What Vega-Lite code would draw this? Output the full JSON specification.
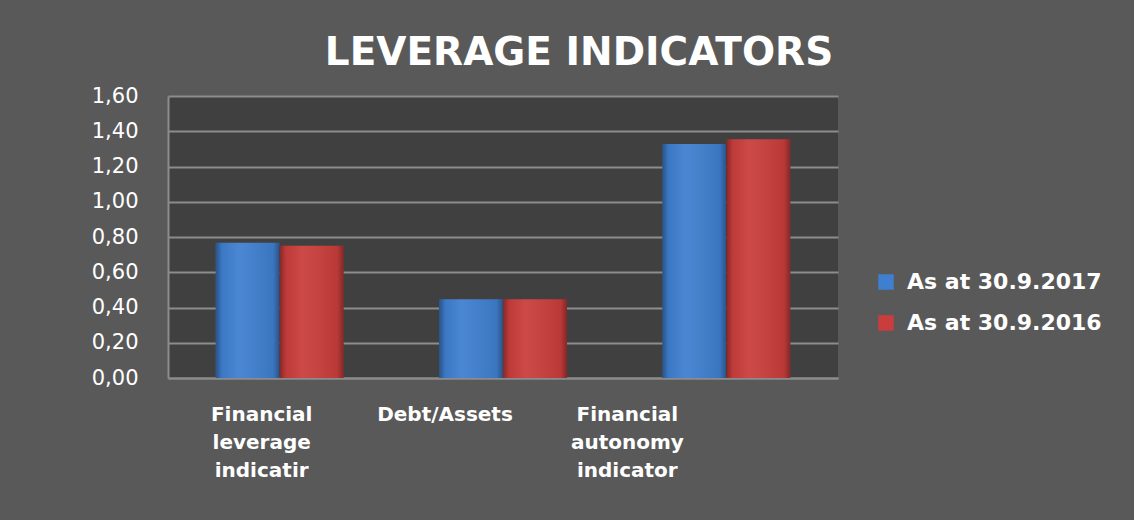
{
  "$schema": "https://vega.github.io/schema/vega-lite/v6.json",
  "autosize": "none",
  "width": 670,
  "height": 282,
  "padding": {"left": 168, "top": 96, "right": 296, "bottom": 142},
  "background": "#595959",
  "title": {
    "text": "LEVERAGE INDICATORS",
    "anchor": "middle",
    "dx": 76,
    "dy": 47,
    "offset": 28,
    "baseline": "alphabetic",
    "font": "DejaVu Sans",
    "fontSize": 39,
    "fontWeight": "bold",
    "color": "#ffffff"
  },
  "config": {
    "view": {"fill": "#404040", "stroke": null}
  },
  "data": {
    "values": [
      {"cat": "Financial leverage indicatir", "series": "As at 30.9.2017", "value": 0.768},
      {"cat": "Financial leverage indicatir", "series": "As at 30.9.2016", "value": 0.751},
      {"cat": "Debt/Assets", "series": "As at 30.9.2017", "value": 0.447},
      {"cat": "Debt/Assets", "series": "As at 30.9.2016", "value": 0.447},
      {"cat": "Financial autonomy indicator", "series": "As at 30.9.2017", "value": 1.327},
      {"cat": "Financial autonomy indicator", "series": "As at 30.9.2016", "value": 1.355}
    ]
  },
  "encoding": {
    "x": {
      "field": "cat",
      "type": "nominal",
      "sort": null,
      "scale": {"paddingInner": 0.427, "paddingOuter": 0.2135},
      "axis": {
        "title": null,
        "grid": false,
        "labelAngle": 0,
        "labelExpr": "split(datum.label, ' ')",
        "labelFont": "DejaVu Sans",
        "labelFontWeight": "bold",
        "labelFontSize": 20,
        "labelColor": "#ffffff",
        "labelLineHeight": 28,
        "labelBaseline": "top",
        "labelPadding": 26,
        "labelOffset": {
          "condition": [
            {"test": "datum.value == 'Debt/Assets'", "value": -58},
            {"test": "datum.value == 'Financial autonomy indicator'", "value": -99}
          ],
          "value": -18
        },
        "ticks": false,
        "domainColor": "#8c8c8c",
        "domainWidth": 2
      }
    },
    "xOffset": {
      "field": "series",
      "type": "nominal",
      "sort": ["As at 30.9.2017", "As at 30.9.2016"],
      "scale": {"paddingInner": 0, "paddingOuter": 0}
    },
    "y": {
      "field": "value",
      "type": "quantitative",
      "scale": {"domain": [0, 1.6]},
      "axis": {
        "title": null,
        "grid": true,
        "gridColor": "#8c8c8c",
        "gridWidth": 2,
        "values": [0, 0.2, 0.4, 0.6, 0.8, 1.0, 1.2, 1.4, 1.6],
        "labelExpr": "replace(format(datum.value, '.2f'), '.', ',')",
        "labelFont": "DejaVu Sans",
        "labelFontSize": 21,
        "labelColor": "#ffffff",
        "labelPadding": 30,
        "ticks": false,
        "domainColor": "#8c8c8c",
        "domainWidth": 2
      }
    }
  },
  "layer": [
    {
      "mark": {"type": "bar"},
      "encoding": {
        "color": {
          "field": "series",
          "type": "nominal",
          "sort": ["As at 30.9.2017", "As at 30.9.2016"],
          "scale": {"domain": ["As at 30.9.2017", "As at 30.9.2016"], "range": ["#3f7fcf", "#c93e3c"]},
          "legend": {
            "title": null,
            "orient": "none",
            "legendX": 707,
            "legendY": 175,
            "symbolType": "square",
            "symbolSize": 240,
            "symbolStrokeWidth": 0,
            "labelFont": "DejaVu Sans",
            "labelFontWeight": "bold",
            "labelFontSize": 22,
            "labelColor": "#ffffff",
            "labelOffset": 10,
            "labelLimit": 300,
            "rowPadding": 19
          }
        }
      }
    },
    {
      "mark": {
        "type": "bar",
        "fill": {
          "gradient": "linear",
          "x1": 0, "y1": 0, "x2": 1, "y2": 0,
          "stops": [
            {"offset": 0, "color": "rgba(0,0,0,0.35)"},
            {"offset": 0.1, "color": "rgba(0,0,0,0.05)"},
            {"offset": 0.35, "color": "rgba(255,255,255,0.06)"},
            {"offset": 0.9, "color": "rgba(0,0,0,0.08)"},
            {"offset": 1, "color": "rgba(0,0,0,0.35)"}
          ]
        }
      }
    }
  ]
}
